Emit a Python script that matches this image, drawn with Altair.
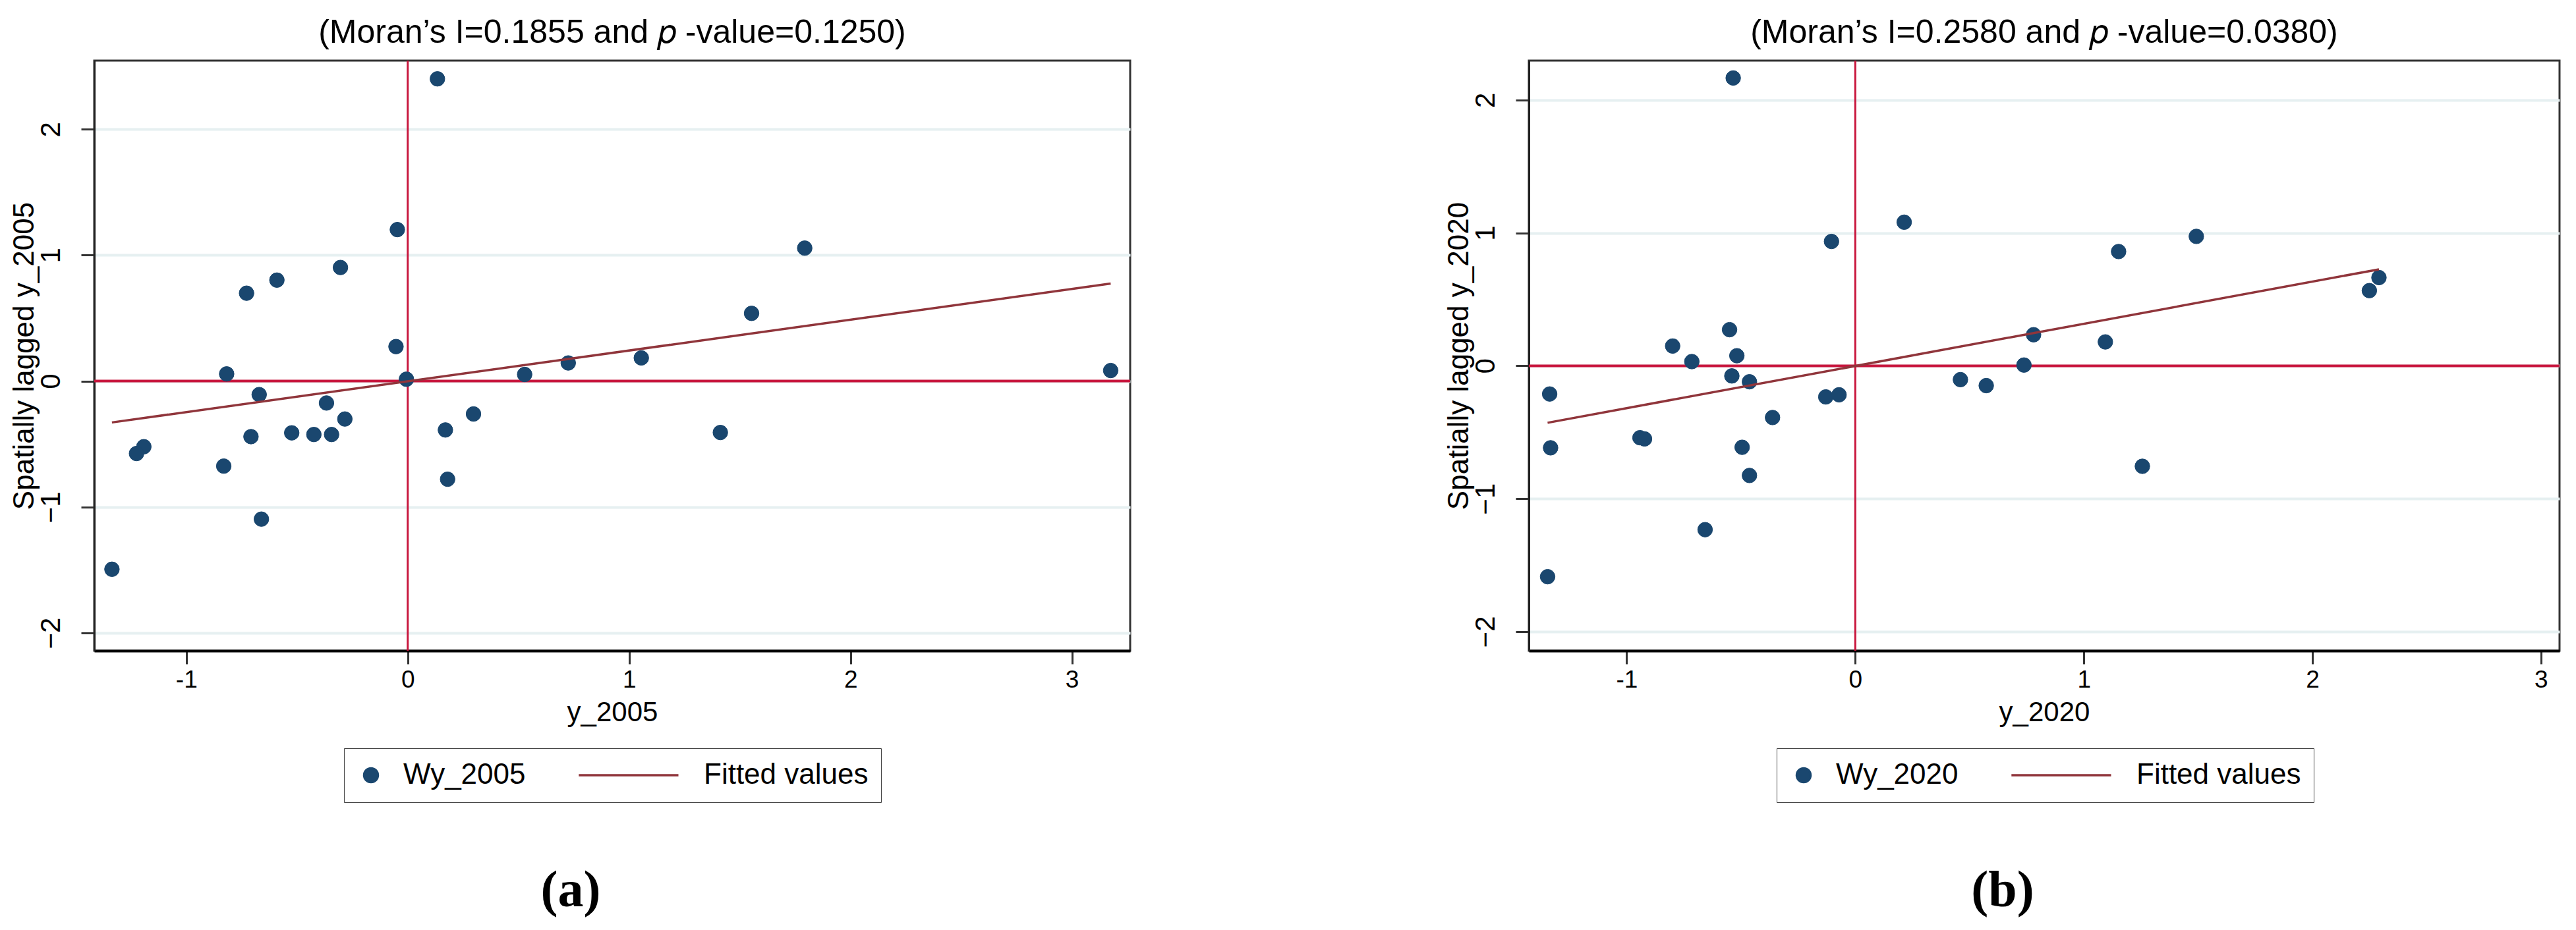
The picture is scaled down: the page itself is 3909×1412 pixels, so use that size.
import altair as alt
import pandas as pd

# ---------------- data ----------------
# panel (a): 2005
x_2005 = [0.134, -0.047, 1.793, -0.304, -0.591, -0.728, 1.553, -0.053, 1.055, 0.725,
          0.528, -0.818, 3.175, -0.006, -0.671, -0.367, -0.284, 0.297, 0.170, -0.524,
          -0.424, -0.344, -0.708, 1.412, -1.192, -1.225, -0.831, 0.180, -0.661, -1.336]
wy_2005 = [2.400, 1.203, 1.056, 0.902, 0.802, 0.698, 0.538, 0.274, 0.184, 0.144,
           0.053, 0.057, 0.084, 0.015, -0.107, -0.174, -0.301, -0.261, -0.388, -0.411,
           -0.424, -0.424, -0.441, -0.408, -0.521, -0.575, -0.675, -0.779, -1.096, -1.494]

# panel (b): 2020
x_2020 = [-0.534, 0.214, -0.104, 1.492, 1.152, 2.291, 2.249, -0.550, 0.780, -0.799,
          1.094, -0.715, -0.518, 0.738, -0.540, -0.463, 0.460, 0.573, -1.337, -0.129,
          -0.071, -0.362, -0.942, -0.922, -1.333, -0.495, -0.463, 1.256, -0.657, -1.346]
wy_2020 = [2.166, 1.081, 0.936, 0.974, 0.860, 0.664, 0.566, 0.272, 0.234, 0.149,
           0.180, 0.032, 0.076, 0.006, -0.076, -0.120, -0.104, -0.149, -0.212, -0.234,
           -0.218, -0.389, -0.541, -0.550, -0.617, -0.613, -0.825, -0.756, -1.233, -1.587]

titles = ["(Moran\u2019s I=0.1855 and \U0001D45D -value=0.1250)",
          "(Moran\u2019s I=0.2580 and \U0001D45D -value=0.0380)"]
x_titles = ["y_2005", "y_2020"]
y_titles = ["Spatially lagged y_2005", "Spatially lagged y_2020"]
series_names = ["Wy_2005", "Wy_2020"]
fit_name = "Fitted values"
captions = ["(a)", "(b)"]
x_ticks = [-1, 0, 1, 2, 3]
y_ticks = [-2, -1, 0, 1, 2]
x_domains = [[-1.416, 3.263], [-1.428, 3.081]]
y_domains = [[-2.141, 2.545], [-2.144, 2.297]]
plot_widths = [1572, 1564]
legend_x = [379, 376]

NAVY = "#1a476f"
MAROON = "#90353b"
RED = "#c8163d"
FONT = "Liberation Sans"


def panel(xs, ys, title, xt, yt, sname, cap, xdom, ydom, w, lx):
    df = pd.DataFrame({"x": xs, "y": ys, "series": sname})
    zero = pd.DataFrame({"z": [0]})
    xenc = alt.X("x:Q", scale=alt.Scale(domain=xdom, nice=False, zero=False),
                 axis=alt.Axis(title=xt, values=x_ticks, grid=False, format="d",
                               labelExpr="replace(datum.label, '\u2212', '-')",
                               labelFontSize=37, titleFontSize=42,
                               labelPadding=6, titlePadding=11,
                               domainColor="#000", domainWidth=4))
    yenc = alt.Y("y:Q", scale=alt.Scale(domain=ydom, nice=False, zero=False),
                 axis=alt.Axis(title=yt, values=y_ticks, grid=True, format="d",
                               gridColor="#e6f0f1", gridWidth=4,
                               labelAngle=270, labelFontSize=42, titleFontSize=44,
                               labelPadding=24, titlePadding=-3))
    dom = [sname, fit_name]
    leg = alt.Legend(title=None, orient="none", legendX=lx, legendY=1044,
                     direction="horizontal", labelLimit=600)
    hline = alt.Chart(zero).mark_rule(color=RED, strokeWidth=4).encode(y=alt.datum(0))
    vline = alt.Chart(zero).mark_rule(color=RED, strokeWidth=3).encode(x=alt.datum(0))
    pts = alt.Chart(df).mark_point(filled=True, size=500, opacity=1, strokeWidth=1).encode(
        x=xenc, y=yenc,
        fill=alt.Fill("series:N", scale=alt.Scale(domain=dom, range=[NAVY, MAROON]), legend=leg),
        stroke=alt.Stroke("series:N", scale=alt.Scale(domain=dom, range=[NAVY, MAROON]), legend=leg),
        shape=alt.Shape("series:N", scale=alt.Scale(domain=dom, range=["circle", "M-13.4,0H1"]), legend=leg),
    )
    fit = alt.Chart(df).transform_regression("x", "y").mark_line(
        color=MAROON, strokeWidth=3.5).encode(x=xenc, y=yenc)
    layer = alt.layer(hline, vline, pts, fit).properties(
        width=w, height=896,
        title=alt.TitleParams(title, fontSize=50, font=FONT, fontWeight="normal",
                              anchor="middle", frame="group", offset=16, color="#000"),
    )
    return alt.VConcatChart(
        vconcat=[layer],
        title=alt.TitleParams(cap, orient="bottom", anchor="middle", fontSize=78,
                              font="Liberation Serif", fontWeight="bold", offset=95,
                              color="#000"),
    )


panels = [panel(x_2005, wy_2005, titles[0], x_titles[0], y_titles[0], series_names[0],
                captions[0], x_domains[0], y_domains[0], plot_widths[0], legend_x[0]),
          panel(x_2020, wy_2020, titles[1], x_titles[1], y_titles[1], series_names[1],
                captions[1], x_domains[1], y_domains[1], plot_widths[1], legend_x[1])]

chart = alt.hconcat(*panels, spacing=471).resolve_scale(
    fill="independent", stroke="independent", shape="independent"
).resolve_legend(
    fill="independent", stroke="independent", shape="independent"
).properties(
    padding={"left": 5, "top": 15, "right": 5, "bottom": 5}
).configure(font=FONT).configure_view(
    stroke="#333", strokeWidth=3
).configure_axis(
    labelFont=FONT, titleFont=FONT, labelColor="#000", titleColor="#000",
    titleFontWeight="normal", tickColor="#333", tickWidth=3, tickSize=20,
    domainColor="#222", domainWidth=3
).configure_legend(
    labelFont=FONT, labelFontSize=44, labelColor="#000", symbolSize=441,
    symbolStrokeWidth=3.5, labelOffset=27, columnPadding=73, padding=19,
    strokeColor="#444", cornerRadius=0, labelLimit=600
)

chart.save("out.html", embed_options={"renderer": "svg", "actions": False})
